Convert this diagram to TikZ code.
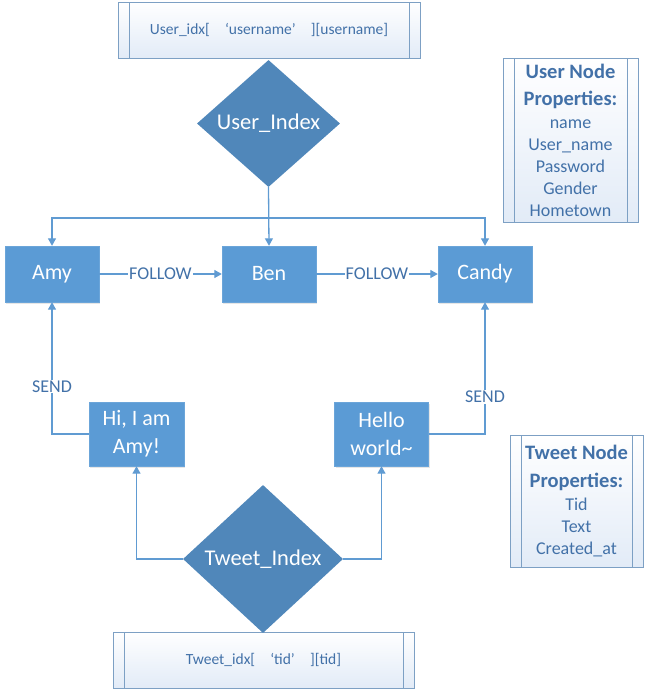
\documentclass[tikz,border=0pt]{standalone}
\usepackage{fontspec}
\setmainfont{Carlito}
\usepackage{tikz}
\usetikzlibrary{shapes.geometric, arrows.meta, shadows}
\definecolor{Person_Node}{RGB}{91,155,213}
\definecolor{Index_Node}{RGB}{80,135,186}
\definecolor{Connector}{RGB}{96,155,210}
\definecolor{Label_Text}{RGB}{66,113,168}
\definecolor{Key_Border}{RGB}{125,160,196}
\definecolor{Key_Fill}{RGB}{226,235,247}
\newcommand{\wideopen}{\makebox[1em][r]{‘}}
\newcommand{\wideclose}{\makebox[1em][l]{’}}

\tikzset{
    entity/.style={rectangle, fill=Person_Node, draw=Person_Node!90!white,
        text=white, minimum width=94pt, minimum height=56pt, inner sep=0pt,
        align=center, font=\fontsize{22}{28}\selectfont,
        drop shadow={shadow xshift=1pt, shadow yshift=-1.5pt, opacity=0.2}},
    index/.style={diamond, fill=Index_Node, text=white, inner sep=0pt,
        font=\fontsize{22.5}{27}\selectfont},
    keybox/.style={rectangle, draw=Key_Border, line width=0.8pt,
        top color=white, bottom color=Key_Fill, text=Label_Text,
        inner sep=0pt, align=center,
        path picture={
            \draw[Key_Border, line width=0.8pt]
            ([xshift=11pt]path picture bounding box.north west) --
            ([xshift=11pt]path picture bounding box.south west)
            ([xshift=-11pt]path picture bounding box.north east) --
            ([xshift=-11pt]path picture bounding box.south east);
        }},
    link/.style={Connector, line width=1.3pt,
        -{Triangle[width=8pt,length=7.5pt]}},
    lbl/.style={fill=white, text=Label_Text, inner sep=1pt,
        font=\fontsize{18}{22}\selectfont},
}

\begin{document}
\begin{tikzpicture}[x=1pt, y=-1pt]
    %% Background
    \draw[draw=none] (0,0) rectangle (647,691);

    %% Index keys
    \node[keybox, minimum width=302pt, minimum height=56pt,
        font=\fontsize{15.5}{19}\selectfont] (userkey) at (269,30)
        {User\_idx[~\wideopen username\wideclose~][username]};
    \node[keybox, minimum width=301pt, minimum height=56pt,
        font=\fontsize{15.5}{19}\selectfont] (tweetkey) at (263.5,660)
        {Tweet\_idx[~\wideopen tid\wideclose~][tid]};

    %% Indexes
    \node[index, minimum width=143pt, minimum height=127pt] (ui) at (268.5,123.5) {User\_Index};
    \node[index, minimum width=160pt, minimum height=148pt] (ti) at (263,559) {Tweet\_Index};

    %% Users and tweets
    \node[entity] (amy) at (52,274) {Amy};
    \node[entity] (ben) at (269,274) {Ben};
    \node[entity] (candy) at (485,274) {Candy};
    \node[entity, minimum width=95pt, minimum height=64pt] (hi) at (136.5,434) {Hi, I am\\Amy!};
    \node[entity, minimum width=94pt, minimum height=64pt] (hello) at (381.5,434) {Hello\\world\textasciitilde};

    %% Properties
    \node[keybox, minimum width=135pt, minimum height=164pt,
        font=\fontsize{18}{22}\selectfont] (userprops) at (570.5,140)
        {\textbf{\fontsize{20.5}{27}\selectfont User Node}\\[5pt]
         \textbf{\fontsize{20.5}{27}\selectfont Properties:}\\[1pt]
         name\\ User\_name\\ Password\\ Gender\\ Hometown};
    \node[keybox, minimum width=133pt, minimum height=132pt,
        font=\fontsize{18}{22}\selectfont] (tweetprops) at (576.5,501)
        {\textbf{\fontsize{20.5}{27}\selectfont Tweet Node}\\[6pt]
         \textbf{\fontsize{20.5}{27}\selectfont Properties:}\\[1pt]
         Tid\\ Text\\ Created\_at};

    %% User index links
    \coordinate (split) at (268.5,218);
    \draw[link] (ui.south) -- (ben.north);
    \foreach \p in {amy,candy}
    {
        \draw[link] (split) -| (\p.north);
    }

    %% Follow
    \foreach \a/\b in {amy/ben,ben/candy}
    {
        \draw[link] (\a) -- (\b) node[midway, lbl]{FOLLOW};
    }

    %% Send
    \draw[link] (hi.west) -| (amy.south) node[pos=0.68, lbl]{SEND};
    \draw[link] (hello.east) -| (candy.south) node[pos=0.64, lbl]{SEND};

    %% Tweet index links
    \draw[link] (ti.west) -| (hi.south);
    \draw[link] (ti.east) -| (hello.south);
\end{tikzpicture}
\end{document}
